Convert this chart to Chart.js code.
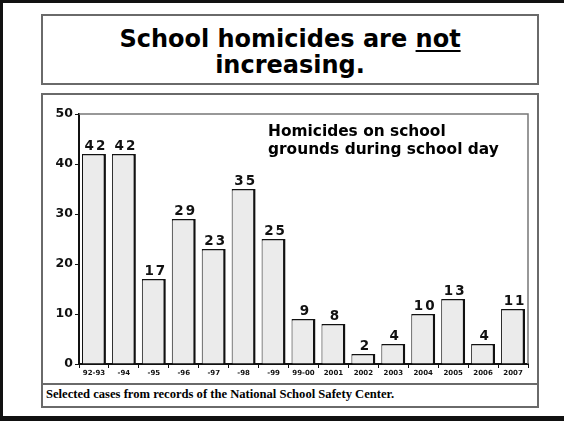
<!DOCTYPE html>
<html>
<head>
<meta charset="utf-8">
<script src="https://cdn.jsdelivr.net/npm/chart.js@4.4.1/dist/chart.umd.min.js"></script>
<style>
  html, body { margin: 0; padding: 0; background: #fff; }
  body { position: relative; width: 564px; height: 422px; overflow: hidden; }
  #frame {
    position: absolute; left: 0; top: 0; width: 564px; height: 421px;
    box-sizing: border-box;
    border-top: 3px solid #111; border-left: 3px solid #111; border-bottom: 5px solid #111;
  }
  .box {
    position: absolute; left: 41px; width: 498px; box-sizing: border-box;
    border: 2px solid #6a6a6a; background: #fff;
  }
  #titleBox { top: 14px; height: 71px; }
  #chartBox { top: 93px; height: 315px; }
  #title {
    position: absolute; left: 41px; top: 26px; width: 498px; text-align: center;
    font: bold 24px "DejaVu Sans", sans-serif; line-height: 26px; color: #000;
  }
  #title u { text-decoration-thickness: 2px; text-underline-offset: 3px; }
  #footLine { position: absolute; left: 41px; top: 383px; width: 498px; height: 0; border-top: 2px solid #6a6a6a; }
  #foot {
    position: absolute; left: 46px; top: 387px;
    font: bold 12.6px "Liberation Serif", serif; color: #000;
  }
  #note {
    position: absolute; left: 268px; top: 122px;
    font: bold 15.4px "DejaVu Sans", sans-serif; line-height: 18px; color: #000;
  }
  #chart { position: absolute; left: 0; top: 0; }
</style>
</head>
<body>
<div id="frame"></div>
<div class="box" id="titleBox"></div>
<div id="title">School homicides are <u>not</u><br>increasing.</div>
<div class="box" id="chartBox"></div>
<div id="footLine"></div>
<div id="foot">Selected cases from records of the National School Safety Center.</div>
<canvas id="chart" width="564" height="422"></canvas>
<div id="note">Homicides on school<br>grounds during school day</div>

<script>
// school years along the x axis
const years = ['92-93', '-94', '-95', '-96', '-97', '-98', '-99', '99-00',
  '2001', '2002', '2003', '2004', '2005', '2006', '2007'];
// homicides per year
const homicides = [42, 42, 17, 29, 23, 35, 25, 9, 8, 2, 4, 10, 13, 4, 11];
const yTicks = [0, 10, 20, 30, 40, 50];

const ink = '#111';

// value above each bar
const barLabels = {
  id: 'barLabels',
  afterDatasetsDraw(chart) {
    const ctx = chart.ctx;
    const meta = chart.getDatasetMeta(0);
    ctx.save();
    ctx.font = 'bold 13.5px "DejaVu Sans", sans-serif';
    ctx.fillStyle = ink;
    ctx.textAlign = 'center';
    ctx.textBaseline = 'bottom';
    ctx.letterSpacing = '2px';
    meta.data.forEach((bar, i) => {
      ctx.fillText(String(homicides[i]), bar.x + 2, bar.y - 1);
    });
    ctx.restore();
  }
};

// thin frame on the top and right of the plot
const plotFrame = {
  id: 'plotFrame',
  beforeDatasetsDraw(chart) {
    const { ctx, chartArea: a } = chart;
    ctx.save();
    ctx.strokeStyle = '#777';
    ctx.lineWidth = 1.5;
    ctx.beginPath();
    ctx.moveTo(a.left, a.top);
    ctx.lineTo(a.right, a.top);
    ctx.lineTo(a.right, a.bottom);
    ctx.stroke();
    ctx.restore();
  }
};

new Chart(document.getElementById('chart'), {
  type: 'bar',
  data: {
    labels: years,
    datasets: [{
      data: homicides,
      backgroundColor: '#ebebeb',
      borderColor: ink,
      borderWidth: { top: 1.5, left: 1, right: 2.5, bottom: 0 },
      borderSkipped: false,
      barPercentage: 0.8,
      categoryPercentage: 1
    }]
  },
  options: {
    responsive: false,
    animation: false,
    layout: { padding: { left: 39, top: 114, right: 36, bottom: 38 } },
    plugins: {
      legend: { display: false },
      tooltip: { enabled: false }
    },
    scales: {
      x: {
        afterFit: s => { s.height = 20; },
        grid: { offset: true, drawOnChartArea: false, tickLength: 4, color: ink, lineWidth: 1 },
        border: { color: ink, width: 2 },
        ticks: { color: ink, font: { family: 'DejaVu Sans', size: 7, weight: 'bold' }, padding: 1, maxRotation: 0, autoSkip: false }
      },
      y: {
        min: 0,
        max: 50,
        afterFit: s => { s.width = 40; },
        afterBuildTicks: s => { s.ticks = yTicks.map(v => ({ value: v })); },
        grid: { drawOnChartArea: false, tickLength: 4, color: ink, lineWidth: 1 },
        border: { color: ink, width: 2 },
        ticks: { color: ink, font: { family: 'DejaVu Sans', size: 12.5, weight: 'bold' }, padding: 2 }
      }
    }
  },
  plugins: [barLabels, plotFrame]
});
</script>
</body>
</html>
